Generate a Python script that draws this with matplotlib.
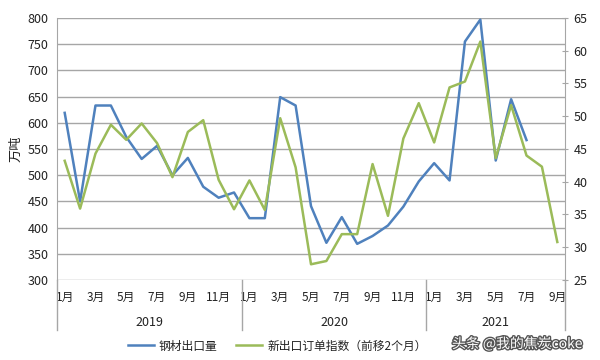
import matplotlib
matplotlib.use("Agg")
import matplotlib.pyplot as plt
import matplotlib.transforms as mtransforms
import matplotlib.patheffects as pe
import numpy as np

plt.rcParams['font.family'] = ['Noto Sans CJK SC', 'DejaVu Sans']

years = ["2019", "2020", "2021"]
months_per_year = [12, 12, 9]
month_labels = ["1月", "", "3月", "", "5月", "", "7月", "", "9月", "", "11月", "",
                "1月", "", "3月", "", "5月", "", "7月", "", "9月", "", "11月", "",
                "1月", "", "3月", "", "5月", "", "7月", "", "9月"]

steel_exports = [619, 450, 633, 633, 573, 531, 556, 500, 533, 478, 457, 467,
                 418, 418, 649, 633, 441, 371, 420, 369, 384, 404, 440, 488,
                 523, 490, 755, 797, 528, 645, 567]
new_export_orders = [43.2, 35.9, 44.3, 48.7, 46.4, 48.9, 45.9, 40.7, 47.6, 49.4, 40.3, 35.8,
                     40.2, 35.7, 49.7, 42.2, 27.4, 27.9, 32.0, 32.0, 42.7, 34.8, 46.6, 52.0,
                     46.0, 54.4, 55.3, 61.4, 43.6, 51.7, 44.0, 42.3, 30.8]

series_names = ["钢材出口量", "新出口订单指数（前移2个月）"]
blue = "#4F81BD"
green = "#9BBB59"
grid_c = "#a6a6a6"

fig = plt.figure(figsize=(6, 3.6), dpi=100)
fig.patch.set_facecolor("white")
ax = fig.add_axes([57/600, 1-280/360, (565-57)/600, (280-18)/360])
ax2 = ax.twinx()

n = len(month_labels)
x_all = np.arange(n)
l1, = ax.plot(np.arange(len(steel_exports)), steel_exports, color=blue, lw=1.8)
l2, = ax2.plot(np.arange(len(new_export_orders)), new_export_orders, color=green, lw=1.8)

ax.set_xlim(-0.5, n - 0.5)
ax.set_ylim(300, 800)
ax.set_yticks(np.arange(300, 801, 50))
ax2.set_ylim(25, 65)
ax2.set_yticks(np.arange(25, 66, 5))
ax.yaxis.grid(True, color=grid_c, lw=1.0)
ax.set_axisbelow(True)

for a in (ax, ax2):
    for s in a.spines.values():
        s.set_visible(False)
ax.spines['left'].set_visible(True)
ax.spines['left'].set_color(grid_c)
ax2.spines['right'].set_visible(True)
ax2.spines['right'].set_color(grid_c)

ax.tick_params(axis='y', length=0, labelsize=9, colors="#222222", pad=6)
ax2.tick_params(axis='y', length=4, direction='inout', color=grid_c, labelsize=9,
                labelcolor="#222222", pad=4)
ax.set_xticks(x_all)
ax.set_xticklabels(month_labels, fontsize=8.5, color="#222222")
ax.tick_params(axis='x', length=0, pad=8)

ax.set_ylabel("万吨", fontsize=9.5, color="#222222", labelpad=4)

# year separators and labels
trans = mtransforms.blended_transform_factory(ax.transData, ax.transAxes)
bounds = [-0.5]
for m in months_per_year:
    bounds.append(bounds[-1] + m)
for b in bounds:
    ax.plot([b, b], [0, -50/262], transform=trans, color=grid_c, lw=1.0, clip_on=False)
for i, yr in enumerate(years):
    ax.text((bounds[i] + bounds[i+1]) / 2, -42/262, yr, transform=trans,
            ha='center', va='center', fontsize=9, color="#222222")

fig.legend([l1, l2], series_names, loc='center left', bbox_to_anchor=(128/600, 1-346/360),
           ncol=2, frameon=False, fontsize=8.5, handlelength=2.2, columnspacing=1.6,
           handletextpad=0.4, labelcolor="#222222", borderaxespad=0, borderpad=0)

fig.text(452/600, 1-344/360, "头条 @我的焦炭coke", fontsize=10, color="white",
         ha='left', va='center',
         path_effects=[pe.withStroke(linewidth=2, foreground="#555555")])

fig.savefig("out.png", dpi=100)
